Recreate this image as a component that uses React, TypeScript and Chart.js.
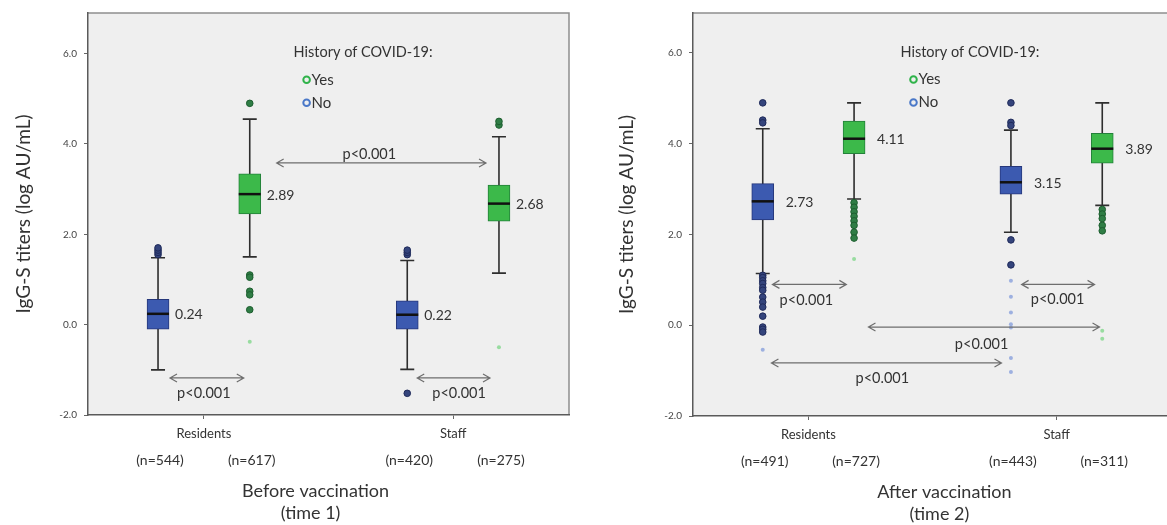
import React, { useEffect, useRef } from "react";
import { Chart, registerables } from "chart.js";
Chart.register(...registerables);

const FONT = "Lato, 'Open Sans', sans-serif";

const groups = ["Residents", "Staff"];
const yTicks = [-2, 0, 2, 4, 6];
const legendTitle = "History of COVID-19:";
const seriesNames = ["Yes", "No"];
const pLabel = "p<0.001";
const yTitle = "IgG-S titers (log AU/mL)";

// Box statistics per group: [lower whisker, Q1, median, Q3, upper whisker]
// Before vaccination (time 1)
const t1NoBoxes = [
  [-1.0, -0.1, 0.24, 0.56, 1.48],
  [-0.99, -0.1, 0.22, 0.53, 1.42],
];
const t1YesBoxes = [
  [1.5, 2.45, 2.89, 3.34, 4.55],
  [1.14, 2.29, 2.68, 3.09, 4.16],
];
const t1NoOutliers = [
  [1.55, 1.6, 1.65, 1.7],
  [1.55, 1.6, 1.65, -1.52],
];
const t1YesOutliers = [
  [4.9, 1.1, 1.05, 0.74, 0.66, 0.33],
  [4.42, 4.5],
];
const t1NoExtremes: number[][] = [[], []];
const t1YesExtremes = [[-0.38], [-0.5]];
const t1NoCounts = [544, 420];
const t1YesCounts = [617, 275];
// comparisons: [from x, to x, y, label x, label y] in axis units
const t1Comparisons = [
  [1.292, 2.132, 3.58, 1.664, 3.78],
  [0.864, 1.16, -1.18, 1.0, -1.51],
  [1.856, 2.148, -1.18, 2.024, -1.51],
];
const t1Title = ["Before vaccination", "(time 1)"];

// After vaccination (time 2)
const t2NoBoxes = [
  [1.14, 2.32, 2.73, 3.12, 4.33],
  [2.05, 2.89, 3.15, 3.5, 4.3],
];
const t2YesBoxes = [
  [2.78, 3.78, 4.11, 4.5, 4.9],
  [2.64, 3.57, 3.89, 4.23, 4.9],
];
const t2NoOutliers = [
  [4.9, 4.52, 4.46, 1.1, 1.05, 0.98, 0.92, 0.83, 0.77, 0.62, 0.51, 0.4, 0.2, -0.04, -0.09, -0.15],
  [4.9, 4.47, 4.4, 1.88, 1.33],
];
const t2YesOutliers = [
  [2.7, 2.6, 2.5, 2.4, 2.3, 2.2, 2.05, 1.92],
  [2.55, 2.45, 2.35, 2.2, 2.08],
];
const t2NoExtremes = [
  [-0.54],
  [0.98, 0.63, 0.28, 0.02, -0.05, -0.72, -1.03],
];
const t2YesExtremes = [[1.46], [-0.12, -0.3]];
const t2NoCounts = [491, 443];
const t2YesCounts = [727, 311];
const t2Comparisons = [
  [0.855, 1.153, 0.9, 0.992, 0.55],
  [1.859, 2.153, 0.9, 2.004, 0.57],
  [1.242, 2.173, -0.04, 1.698, -0.42],
  [0.851, 1.778, -0.83, 1.298, -1.16],
];
const t2Title = ["After vaccination", "(time 2)"];

// ---- styling / layout (not data) ----
const OFF = 0.184;
const BLUE = { fill: "#3c5ab0", border: "#26377a", out: "#34447c", outBorder: "#1f2a5a", ext: "#9db0e0", ring: "#4a78c8" };
const GREEN = { fill: "#3cb94a", border: "#23803a", out: "#2f7d45", outBorder: "#1d5e2f", ext: "#98dca0", ring: "#2fb34a" };

type Panel = {
  no: number[][]; yes: number[][];
  noOut: number[][]; yesOut: number[][];
  noExt: number[][]; yesExt: number[][];
  noN: number[]; yesN: number[];
  comps: number[][]; title: string[];
  titleX: number; legendX: number; legendY: number;
  labelGap: number; yTitleX: number;
  padTop: number; padBottom: number; padRight: number; yWidth: number;
  yMax: number;
};

const panel1: Panel = {
  no: t1NoBoxes, yes: t1YesBoxes, noOut: t1NoOutliers, yesOut: t1YesOutliers,
  noExt: t1NoExtremes, yesExt: t1YesExtremes, noN: t1NoCounts, yesN: t1YesCounts,
  comps: t1Comparisons, title: t1Title, titleX: 1.448, legendX: 1.36, legendY: 6.02,
  labelGap: 6, yTitleX: 24, padTop: 13, padBottom: 80, padRight: 16, yWidth: 88, yMax: 6.9,
};
const panel2: Panel = {
  no: t2NoBoxes, yes: t2YesBoxes, noOut: t2NoOutliers, yesOut: t2YesOutliers,
  noExt: t2NoExtremes, yesExt: t2YesExtremes, noN: t2NoCounts, yesN: t2YesCounts,
  comps: t2Comparisons, title: t2Title, titleX: 1.548, legendX: 1.371, legendY: 6.01,
  labelGap: 12, yTitleX: 42, padTop: 10, padBottom: 79, padRight: 13, yWidth: 108, yMax: 6.88,
};

function makePlugin(p: Panel) {
  const series = [
    { boxes: p.no, off: -OFF, c: BLUE, n: p.noN },
    { boxes: p.yes, off: OFF, c: GREEN, n: p.yesN },
  ];
  return {
    id: "boxExtras",
    beforeDraw(chart: any) {
      const { ctx, chartArea: a } = chart;
      ctx.save();
      ctx.fillStyle = "#efefef";
      ctx.fillRect(a.left, a.top, a.right - a.left, a.bottom - a.top);
      ctx.strokeStyle = "#8f8f8f";
      ctx.lineWidth = 1.5;
      ctx.beginPath();
      ctx.moveTo(a.left, a.top);
      ctx.lineTo(a.right, a.top);
      ctx.lineTo(a.right, a.bottom);
      ctx.stroke();
      ctx.restore();
    },
    beforeDatasetsDraw(chart: any) {
      const { ctx } = chart;
      const xs = chart.scales.x, ys = chart.scales.y;
      ctx.save();
      ctx.strokeStyle = "#2e2e2e";
      ctx.lineWidth = 1.6;
      series.forEach((s) =>
        s.boxes.forEach((b, gi) => {
          const px = xs.getPixelForValue(gi + 1 + s.off);
          const lo = ys.getPixelForValue(b[0]);
          const hi = ys.getPixelForValue(b[4]);
          ctx.beginPath();
          ctx.moveTo(px, lo); ctx.lineTo(px, hi);
          ctx.moveTo(px - 7, lo); ctx.lineTo(px + 7, lo);
          ctx.moveTo(px - 7, hi); ctx.lineTo(px + 7, hi);
          ctx.stroke();
        })
      );
      ctx.restore();
    },
    afterDatasetsDraw(chart: any) {
      const { ctx, chartArea: a } = chart;
      const xs = chart.scales.x, ys = chart.scales.y;
      ctx.save();
      // medians + labels
      series.forEach((s) =>
        s.boxes.forEach((b, gi) => {
          const px = xs.getPixelForValue(gi + 1 + s.off);
          const pm = ys.getPixelForValue(b[2]);
          ctx.strokeStyle = "#111";
          ctx.lineWidth = 2.5;
          ctx.beginPath();
          ctx.moveTo(px - 11, pm); ctx.lineTo(px + 11, pm);
          ctx.stroke();
          ctx.fillStyle = "#333";
          ctx.font = `14px ${FONT}`;
          ctx.textAlign = "left";
          ctx.textBaseline = "middle";
          ctx.fillText(b[2].toFixed(2), px + 11 + p.labelGap, pm + 1);
          // n labels
          ctx.font = `14px ${FONT}`;
          ctx.textAlign = "center";
          ctx.fillText(`(n=${s.n[gi]})`, px + 2, a.bottom + 45);
        })
      );
      // comparison arrows
      ctx.strokeStyle = "#6e6e6e";
      ctx.lineWidth = 1.2;
      p.comps.forEach(([x1, x2, yv, lx, ly]) => {
        const a1 = xs.getPixelForValue(x1), a2 = xs.getPixelForValue(x2), py = ys.getPixelForValue(yv);
        ctx.beginPath();
        ctx.moveTo(a1, py); ctx.lineTo(a2, py);
        ctx.moveTo(a1 + 7, py - 4); ctx.lineTo(a1, py); ctx.lineTo(a1 + 7, py + 4);
        ctx.moveTo(a2 - 7, py - 4); ctx.lineTo(a2, py); ctx.lineTo(a2 - 7, py + 4);
        ctx.stroke();
        ctx.fillStyle = "#333";
        ctx.font = `14.5px ${FONT}`;
        ctx.textAlign = "center";
        ctx.textBaseline = "middle";
        ctx.fillText(pLabel, xs.getPixelForValue(lx), ys.getPixelForValue(ly));
      });
      // legend
      const lx = xs.getPixelForValue(p.legendX), ly = ys.getPixelForValue(p.legendY);
      ctx.fillStyle = "#333";
      ctx.font = `14.5px ${FONT}`;
      ctx.textAlign = "left";
      ctx.textBaseline = "middle";
      ctx.fillText(legendTitle, lx, ly);
      [GREEN, BLUE].forEach((c, i) => {
        const cy = ly + 27 + i * 23;
        ctx.strokeStyle = c.ring;
        ctx.lineWidth = 2;
        ctx.beginPath();
        ctx.arc(lx + 13, cy, 3.3, 0, Math.PI * 2);
        ctx.stroke();
        ctx.fillStyle = "#333";
        ctx.font = `15px ${FONT}`;
        ctx.fillText(seriesNames[i], lx + 18, cy);
      });
      // x title
      ctx.font = `18px ${FONT}`;
      ctx.textAlign = "center";
      const tx = xs.getPixelForValue(p.titleX);
      ctx.fillText(p.title[0], tx, a.bottom + 76);
      ctx.fillText(p.title[1], tx - 5, a.bottom + 98);
      // y title
      ctx.font = `19px ${FONT}`;
      ctx.translate(p.yTitleX, (a.top + a.bottom) / 2);
      ctx.rotate(-Math.PI / 2);
      ctx.fillText(yTitle, 0, 0);
      ctx.restore();
    },
  };
}

function pts(vals: number[][], off: number) {
  return vals.flatMap((arr, gi) => arr.map((v) => ({ x: gi + 1 + off, y: v })));
}

function BoxPanel({ p, left, width }: { p: Panel; left: number; width: number }) {
  const ref = useRef<HTMLCanvasElement>(null);
  useEffect(() => {
    const chart = new Chart(ref.current as HTMLCanvasElement, {
      type: "bar",
      data: {
        datasets: [
          {
            type: "bar",
            label: "No",
            data: p.no.map((b, gi) => ({ x: gi + 1 - OFF, y: [b[1], b[3]] })) as any,
            backgroundColor: BLUE.fill,
            borderColor: BLUE.border,
            borderWidth: 1,
            borderSkipped: false,
            barThickness: 22,
            grouped: false,
          } as any,
          {
            type: "bar",
            label: "Yes",
            data: p.yes.map((b, gi) => ({ x: gi + 1 + OFF, y: [b[1], b[3]] })) as any,
            backgroundColor: GREEN.fill,
            borderColor: GREEN.border,
            borderWidth: 1,
            borderSkipped: false,
            barThickness: 22,
            grouped: false,
          } as any,
          { type: "scatter", data: pts(p.noOut, -OFF), pointRadius: 3.3, backgroundColor: BLUE.out, borderColor: BLUE.outBorder, borderWidth: 1 } as any,
          { type: "scatter", data: pts(p.yesOut, OFF), pointRadius: 3.3, backgroundColor: GREEN.out, borderColor: GREEN.outBorder, borderWidth: 1 } as any,
          { type: "scatter", data: pts(p.noExt, -OFF), pointRadius: 2, backgroundColor: BLUE.ext, borderColor: BLUE.ext, borderWidth: 0 } as any,
          { type: "scatter", data: pts(p.yesExt, OFF), pointRadius: 2, backgroundColor: GREEN.ext, borderColor: GREEN.ext, borderWidth: 0 } as any,
        ],
      },
      options: {
        responsive: false,
        animation: false,
        layout: { padding: { left: 0, top: p.padTop, right: p.padRight, bottom: p.padBottom } },
        plugins: { legend: { display: false }, tooltip: { enabled: false } },
        scales: {
          x: {
            type: "linear",
            min: 0.535,
            max: 2.465,
            offset: false,
            afterBuildTicks: (s: any) => { s.ticks = groups.map((_, i) => ({ value: i + 1 })); },
            afterFit: (s: any) => { s.height = 30; },
            ticks: {
              callback: (v: any) => groups[Number(v) - 1],
              font: { family: FONT, size: 13 },
              color: "#333",
              padding: 7,
              maxRotation: 0,
            },
            grid: { drawOnChartArea: false, drawTicks: true, tickLength: 4, color: "#666", offset: false },
            border: { display: true, color: "#5a5a5a", width: 1.5 },
          },
          y: {
            type: "linear",
            min: -2,
            max: p.yMax,
            afterBuildTicks: (s: any) => { s.ticks = yTicks.map((v) => ({ value: v })); },
            afterFit: (s: any) => { s.width = p.yWidth; },
            ticks: {
              callback: (v: any) => Number(v).toFixed(1),
              font: { family: FONT, size: 10 },
              color: "#444",
              padding: 7,
            },
            grid: { drawOnChartArea: false, drawTicks: true, tickLength: 4, color: "#666" },
            border: { display: true, color: "#5a5a5a", width: 1.5 },
          },
        },
      } as any,
      plugins: [makePlugin(p)],
    });
    return () => chart.destroy();
  }, []);
  return (
    <canvas
      ref={ref}
      width={width}
      height={525}
      style={{ position: "absolute", left, top: 0, width, height: 525 }}
    />
  );
}

export default function App() {
  return (
    <div
      style={{
        position: "absolute",
        left: 0,
        top: 0,
        width: 1167,
        height: 525,
        overflow: "hidden",
        background: "#fff",
      }}
    >
      <BoxPanel p={panel1} left={0} width={585} />
      <BoxPanel p={panel2} left={585} width={600} />
    </div>
  );
}
